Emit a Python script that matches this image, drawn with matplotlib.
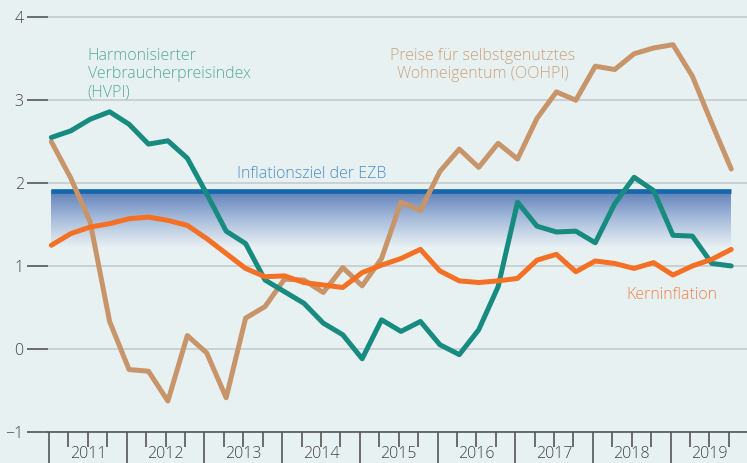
import numpy as np
import matplotlib
matplotlib.use('Agg')
import matplotlib.pyplot as plt
from matplotlib.transforms import blended_transform_factory
from matplotlib.colors import LinearSegmentedColormap

# ---------------- data (quarterly, 2011 Q1 - 2019 Q4) ----------------
start_year = 2011
n_quarters = 36
hvpi = [2.55, 2.63, 2.77, 2.86, 2.71, 2.47, 2.51, 2.30, 1.87, 1.42,
        1.27, 0.83, 0.69, 0.55, 0.31, 0.17, -0.12, 0.35, 0.21, 0.33,
        0.05, -0.07, 0.23, 0.75, 1.77, 1.48, 1.41, 1.42, 1.28, 1.75,
        2.07, 1.91, 1.37, 1.36, 1.03, 1.00]
kern = [1.25, 1.39, 1.47, 1.51, 1.57, 1.59, 1.55, 1.49, 1.33, 1.15,
        0.97, 0.87, 0.88, 0.80, 0.77, 0.74, 0.92, 1.01, 1.09, 1.20,
        0.94, 0.82, 0.80, 0.82, 0.85, 1.07, 1.14, 0.93, 1.06, 1.03,
        0.97, 1.04, 0.89, 1.00, 1.08, 1.20]
oohpi = [2.50, 2.06, 1.53, 0.33, -0.25, -0.27, -0.63, 0.16, -0.05, -0.59,
         0.37, 0.51, 0.84, 0.83, 0.68, 0.98, 0.76, 1.09, 1.77, 1.67,
         2.14, 2.41, 2.19, 2.48, 2.29, 2.78, 3.10, 3.00, 3.41, 3.37,
         3.56, 3.63, 3.67, 3.29, 2.72, 2.17]
years = list(range(2011, 2020))
year_labels = [str(y) for y in years]
yticks = [-1, 0, 1, 2, 3, 4]
ytick_labels = ['\u22121', '0', '1', '2', '3', '4']
target = 1.9
band_low = 1.2

label_hvpi = ['Harmonisierter', 'Verbraucherpreisindex', '(HVPI)']
label_oohpi = ['Preise für selbstgenutztes', 'Wohneigentum (OOHPI)']
label_target = 'Inflationsziel der EZB'
label_kern = 'Kerninflation'

# ---------------- styling ----------------
plt.rcParams['font.family'] = ['Open Sans', 'DejaVu Sans']
plt.rcParams['font.weight'] = 'light'
bg = '#e8f1f2'
c_hvpi = '#178b7f'
c_kern = '#f47025'
c_oohpi = '#c8956a'
c_target = '#1767ab'
tick_col = '#555555'
text_col = '#444444'
fs = 11.5

x = start_year + 0.03 + np.arange(n_quarters) / 4.0

fig = plt.figure(figsize=(7.47, 4.63), dpi=100)
fig.patch.set_facecolor(bg)
ax = fig.add_axes([48 / 747, 31.3 / 463, 699 / 747, 431.7 / 463])
ax.set_facecolor(bg)

# gradient band below the target
cmap = LinearSegmentedColormap.from_list('band', ['#edf3f4', '#a9bedc', '#5d7eb7'])
grad = np.linspace(0, 1, 256).reshape(-1, 1)
ax.imshow(grad, extent=[x[0], x[-1], band_low, target], aspect='auto',
          cmap=cmap, origin='lower', zorder=1, interpolation='bicubic')
ax.plot([x[0], x[-1]], [target, target], color=c_target, lw=3.4,
        solid_capstyle='butt', zorder=2)

# series
kw = dict(lw=3.6, solid_capstyle='round', solid_joinstyle='round')
ax.plot(x, oohpi, color=c_oohpi, zorder=3, **kw)
ax.plot(x, hvpi, color=c_hvpi, zorder=4, **kw)
ax.plot(x, kern, color=c_kern, zorder=5, **kw)

ax.set_xlim(2010.987, 2019.983)
ax.set_ylim(-1, 4.209)

# axes styling
for s in ['left', 'top', 'right']:
    ax.spines[s].set_visible(False)
ax.spines['bottom'].set_color(tick_col)
ax.spines['bottom'].set_linewidth(1.2)

ax.set_yticks(yticks)
ax.set_yticklabels(ytick_labels)
ax.yaxis.grid(True, color='#c3c7c9', lw=1.1)
ax.set_axisbelow(True)
ax.tick_params(axis='y', length=15, width=1.2, color=tick_col, pad=2.5,
               labelsize=fs, labelcolor=text_col)

ax.set_xticks(years)
ax.set_xticklabels([''] * len(years))
ax.set_xticks([y + q / 4 for y in years for q in (1, 2, 3)], minor=True)
ax.tick_params(axis='x', which='major', length=23, width=1.2, color=tick_col)
ax.tick_params(axis='x', which='minor', length=11, width=1.2, color=tick_col)

trans = blended_transform_factory(ax.transData, ax.transAxes)
for y, lab in zip(years, year_labels):
    ax.text(y + 0.5, -0.0705, lab, transform=trans, ha='center', va='bottom',
            fontsize=fs, color=text_col)

# annotations
for yy, line in zip([3.485, 3.262, 3.039], label_hvpi):
    ax.text(2011.50, yy, line, ha='left', va='baseline', fontsize=fs, color='#55a99d')
for yy, line in zip([3.485, 3.272], label_oohpi):
    ax.text(2016.585, yy, line, ha='center', va='baseline', fontsize=fs, color='#caa27c')
ax.text(2013.423, 2.058, label_target, ha='left', va='baseline', fontsize=fs, color='#4b8ec6')
ax.text(2018.435, 0.602, label_kern, ha='left', va='baseline', fontsize=fs, color='#f0834a')

fig.savefig('out.png', dpi=100, facecolor=bg)
